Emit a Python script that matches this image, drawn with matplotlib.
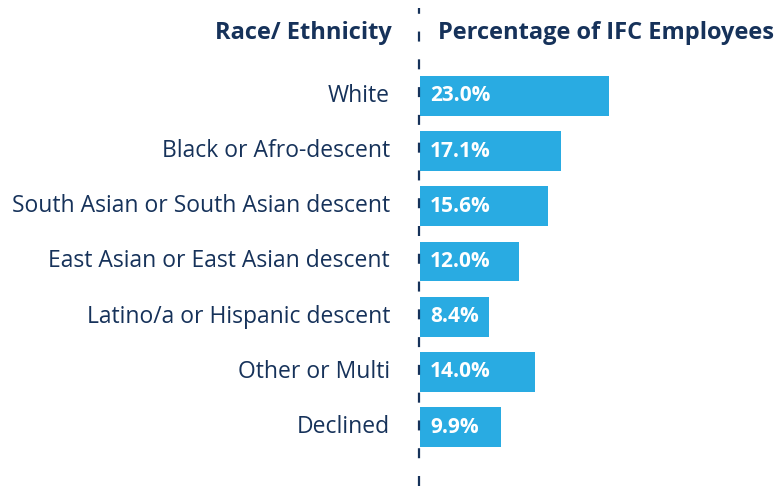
import matplotlib
matplotlib.use('Agg')
import matplotlib.pyplot as plt
from matplotlib.lines import Line2D

# data
groups = ['White', 'Black or Afro-descent', 'South Asian or South Asian descent',
          'East Asian or East Asian descent', 'Latino/a or Hispanic descent',
          'Other or Multi', 'Declined']
shares = [23.0, 17.1, 15.6, 12.0, 8.4, 14.0, 9.9]

navy = '#16325a'
blue = '#29abe2'
W, H = 777, 486

plt.rcParams['font.family'] = ['Open Sans', 'DejaVu Sans']

fig = plt.figure(figsize=(W / 100, H / 100), dpi=100)
ax = fig.add_axes([420 / W, 0, 1 - 420 / W, 1])

pxu = 55.17  # px per category step
ax.set_ylim(6 + (H - 427) / pxu, -96 / pxu)
ax.set_xlim(0, (W - 420) / 8.22)
ax.axis('off')

ypos = list(range(len(groups)))
ax.barh(ypos, shares, height=40 / pxu, color=blue, left=0)

for y, g, v in zip(ypos, groups, shares):
    ax.text(-30 / 8.22, y, g, ha='right', va='center', fontsize=16.5,
            color=navy, clip_on=False)
    ax.text(10 / 8.22, y, '%.1f%%' % v, ha='left', va='center', fontsize=15,
            color='white', fontweight='bold')

# headers
fig.text(392 / W, 1 - 33 / H, 'Race/ Ethnicity', ha='right', va='center',
         fontsize=17, fontweight='bold', color=navy)
fig.text(438 / W, 1 - 33 / H, 'Percentage of IFC Employees', ha='left',
         va='center', fontsize=17, fontweight='bold', color=navy)

# dashed divider
fig.add_artist(Line2D([419 / W, 419 / W], [0, 1 - 8 / H], transform=fig.transFigure,
                      color=navy, lw=1.6, linestyle=(0, (4.5, 8))))

fig.savefig('out.png', dpi=100)
